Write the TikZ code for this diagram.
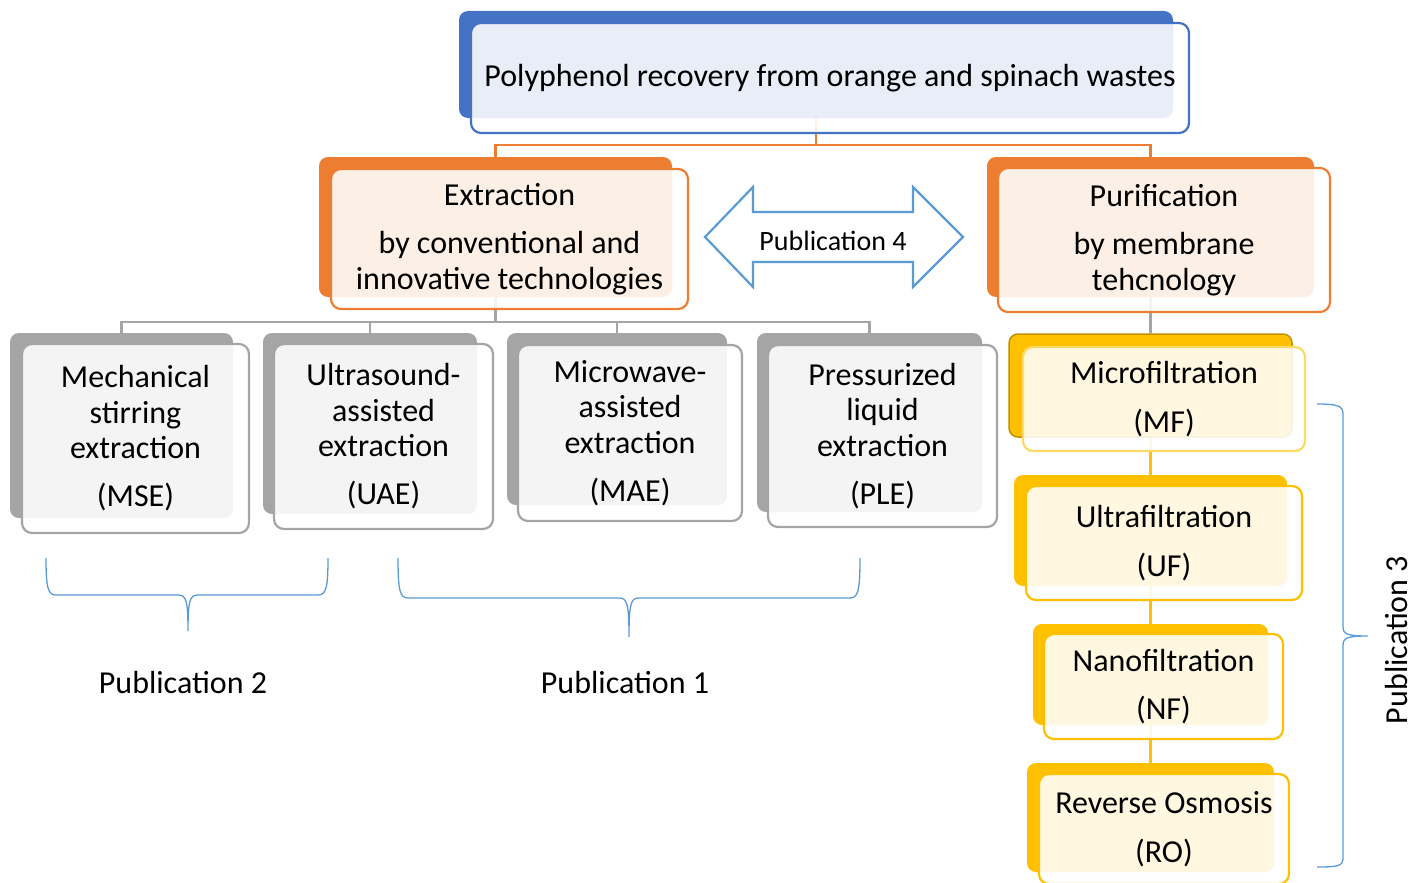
\documentclass[tikz,border=0pt]{standalone}
\usepackage{fontspec}
\setmainfont{Carlito}
\definecolor{cblue}{HTML}{4472C4}
\definecolor{corange}{HTML}{ED7D31}
\definecolor{cgray}{HTML}{A5A5A5}
\definecolor{cyellow}{HTML}{FFC000}
\definecolor{cgold}{HTML}{BF9000}
\definecolor{clightyellow}{HTML}{FFD966}
\definecolor{cbrace}{HTML}{5B9BD5}
\tikzset{
  bshape/.style={rounded corners=9pt, inner sep=0pt, fill=#1, draw=none},
  fshape/.style={rounded corners=10pt, inner sep=0pt, fill=white, fill opacity=0.88, text opacity=1, draw=#1, draw opacity=1, line width=2.2pt, align=center, font=\fontsize{32}{35.5}\selectfont},
  oline/.style={draw=corange, line width=2.5pt},
  gline/.style={draw=cgray, line width=2.2pt},
  yline/.style={draw=cyellow, line width=2.5pt},
  bracepath/.style={draw=cbrace, line width=1.3pt},
  plabel/.style={inner sep=0pt, font=\fontsize{32}{36}\selectfont},
}
\begin{document}
\begin{tikzpicture}[x=1pt, y=-1pt]
\useasboundingbox (0,0) rectangle (1413,883);

% ---------- back shapes ----------
\node[bshape=cblue, minimum width=714, minimum height=107] (topb) at (816,64.5) {};
\node[bshape=corange, minimum width=353, minimum height=140] (extb) at (495.5,227) {};
\node[bshape=corange, minimum width=327, minimum height=140] (purb) at (1150.5,227) {};
\node[bshape=cgray, minimum width=223, minimum height=185] (mseb) at (121.5,425.5) {};
\node[bshape=cgray, minimum width=214, minimum height=181] (uaeb) at (370,423.5) {};
\node[bshape=cgray, minimum width=220, minimum height=172] (maeb) at (617,419) {};
\node[bshape=cgray, minimum width=225, minimum height=179] (pleb) at (869.5,422.5) {};
\node[bshape=cyellow, draw=cgold, line width=1.5pt, minimum width=283, minimum height=103] (mfb) at (1150.5,385.5) {};
\node[bshape=cyellow, minimum width=273, minimum height=111] (ufb) at (1150.5,530.5) {};
\node[bshape=cyellow, minimum width=235, minimum height=101] (nfb) at (1150.5,674.5) {};
\node[bshape=cyellow, minimum width=247, minimum height=109] (rob) at (1150.5,817.5) {};

% ---------- connectors ----------
\coordinate (ojoin) at (816,145);
\draw[oline] (topb.south) -- (ojoin);
\draw[oline] (extb.north) |- (ojoin) -| (purb.north);

\coordinate (gjoin) at (495.5,322);
\draw[gline] (extb.south) -- (gjoin);
\draw[gline] (mseb.north) |- (gjoin) -| (pleb.north);
\draw[gline] (uaeb.north) -- (uaeb.north |- gjoin);
\draw[gline] (maeb.north) -- (maeb.north |- gjoin);

\draw[gline] (purb.south) -- (mfb.north);
\draw[yline] (mfb.south) -- (ufb.north);
\draw[yline] (ufb.south) -- (nfb.north);
\draw[yline] (nfb.south) -- (rob.north);

% ---------- front boxes ----------
\node[fshape=cblue, minimum width=718, minimum height=110] (top) at (830,78)
  {Polyphenol recovery from orange and spinach wastes};
\node[fshape=corange, minimum width=357, minimum height=140] (ext) at (509.5,239)
  {Extraction\\[13pt] by conventional and\\ innovative technologies};
\node[fshape=corange, minimum width=332, minimum height=144] (pur) at (1164,240)
  {Purification\\[13pt] by membrane\\ tehcnology};
\node[fshape=cgray, minimum width=227, minimum height=189] (mse) at (135.5,438.5)
  {Mechanical\\ stirring\\ extraction\\[12.5pt] (MSE)};
\node[fshape=cgray, minimum width=219, minimum height=185] (uae) at (383.5,436.5)
  {Ultrasound-\\ assisted\\ extraction\\[12.5pt] (UAE)};
\node[fshape=cgray, minimum width=224, minimum height=176] (mae) at (630,433)
  {Microwave-\\ assisted\\ extraction\\[12.5pt] (MAE)};
\node[fshape=cgray, minimum width=229, minimum height=182] (ple) at (882.5,436)
  {Pressurized\\ liquid\\ extraction\\[12.5pt] (PLE)};
\node[fshape=clightyellow, minimum width=282, minimum height=104] (mf) at (1164,399)
  {Microfiltration\\[13pt] (MF)};
\node[fshape=cyellow, minimum width=276, minimum height=114] (uf) at (1164,543)
  {Ultrafiltration\\[13pt] (UF)};
\node[fshape=cyellow, minimum width=239, minimum height=105] (nf) at (1163.5,686.5)
  {Nanofiltration\\[13pt] (NF)};
\node[fshape=cyellow, minimum width=250, minimum height=110] (ro) at (1164,829)
  {Reverse Osmosis\\[13pt] (RO)};

% ---------- double arrow (Publication 4) ----------
\draw[draw=cbrace, fill=white, line width=2.2pt, line join=miter]
  (705,237) -- (753,187) -- (753,212) -- (913,212) -- (913,187) -- (963,237)
  -- (913,287) -- (913,262) -- (753,262) -- (753,287) -- cycle;
\node[inner sep=0pt, font=\fontsize{28}{32}\selectfont] (pub4) at (833,241) {Publication 4};

% ---------- braces ----------
\draw[bracepath] (46,558) .. controls (46,588) and (48,595) .. (56,595) -- (178,595)
  .. controls (186,595) and (188,600) .. (188,631)
  .. controls (188,600) and (190,595) .. (198,595) -- (318,595)
  .. controls (326,595) and (328,588) .. (328,558);
\draw[bracepath] (398,558) .. controls (398,591) and (400,598) .. (408,598) -- (619,598)
  .. controls (627,598) and (629,603) .. (629,637)
  .. controls (629,603) and (631,598) .. (639,598) -- (850,598)
  .. controls (858,598) and (860,591) .. (860,558);
\draw[bracepath] (1317,404) .. controls (1338,404) and (1343,406) .. (1343,414) -- (1343,626)
  .. controls (1343,634) and (1346,636) .. (1368,636)
  .. controls (1346,636) and (1343,638) .. (1343,646) -- (1343,858)
  .. controls (1343,866) and (1338,867) .. (1317,867);

% ---------- labels ----------
\node[plabel] (pub2) at (183,682) {Publication 2};
\node[plabel] (pub1) at (625,682) {Publication 1};
\node[plabel, rotate=90] (pub3) at (1396,640) {Publication 3};
\end{tikzpicture}
\end{document}
